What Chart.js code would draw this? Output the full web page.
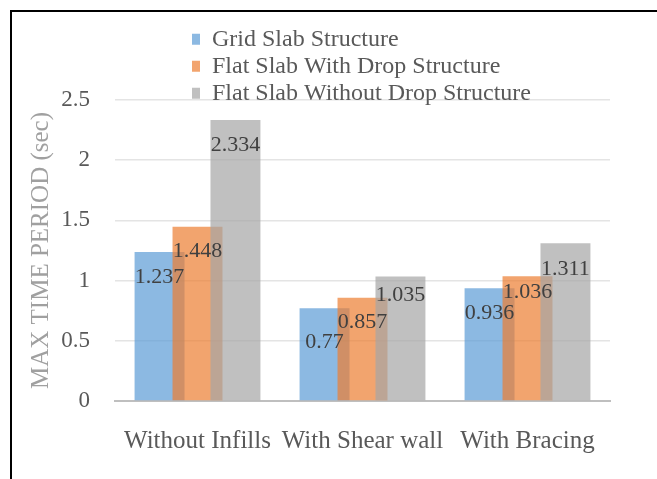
<!DOCTYPE html>
<html>
<head>
<meta charset="utf-8">
<script src="https://cdn.jsdelivr.net/npm/chart.js@4/dist/chart.umd.min.js"></script>
<style>
  html, body { margin: 0; padding: 0; background: #ffffff; overflow: hidden; }
  #wrap { position: relative; width: 657px; height: 479px; }
  #frame {
    position: absolute; left: 10px; top: 10px; width: 700px; height: 520px;
    border-left: 2px solid #000; border-top: 2px solid #000;
    pointer-events: none; box-sizing: border-box;
  }
  canvas { position: absolute; left: 0; top: 0; }
</style>
</head>
<body>
<div id="wrap">
  <canvas id="chart" width="657" height="479"></canvas>
  <div id="frame"></div>
</div>
<script>
// Building configurations compared
const categories = ['Without Infills', 'With Shear wall', 'With Bracing'];

// Series names
const seriesNames = [
  'Grid Slab Structure',
  'Flat Slab With Drop Structure',
  'Flat Slab Without Drop Structure'
];

// Maximum time period (sec) per series
const gridSlab = [1.237, 0.77, 0.936];
const flatSlabWithDrop = [1.448, 0.857, 1.036];
const flatSlabWithoutDrop = [2.334, 1.035, 1.311];

// Value axis tick labels
const yTicks = [0, 0.5, 1, 1.5, 2, 2.5];

// Styling
const SERIF = "'Liberation Serif', 'Times New Roman', serif";
const seriesColors = [
  'rgba(91, 155, 213, 0.7)',
  'rgba(237, 125, 49, 0.7)',
  'rgba(165, 165, 165, 0.7)'
];
// How far below each bar's top its value label sits (px)
const labelDrop = [
  [25, 34, 25],
  [25, 24, 16],
  [25, 19, 26]
];
const LEGEND_LEFT = 189;
const LEGEND_TOP = 24.3;

// Paint series in their natural order so later bars sit on top of earlier ones
const seriesPaintOrder = {
  id: 'seriesPaintOrder',
  beforeDatasetsDraw(chart) {
    const { ctx, chartArea: a } = chart;
    ctx.save();
    ctx.beginPath();
    ctx.rect(a.left, a.top, a.right - a.left, a.bottom - a.top);
    ctx.clip();
    chart.data.datasets.forEach((ds, i) => {
      const meta = chart.getDatasetMeta(i);
      if (!meta.hidden) meta.controller.draw();
    });
    ctx.restore();
    return false;
  }
};

// Value labels inside the bars
const valueLabels = {
  id: 'valueLabels',
  afterDraw(chart) {
    const ctx = chart.ctx;
    ctx.save();
    ctx.font = '22px ' + SERIF;
    ctx.fillStyle = '#404040';
    ctx.textAlign = 'center';
    ctx.textBaseline = 'middle';
    chart.data.datasets.forEach((ds, i) => {
      chart.getDatasetMeta(i).data.forEach((bar, j) => {
        ctx.fillText(String(ds.data[j]), bar.x, bar.y + labelDrop[i][j]);
      });
    });
    ctx.restore();
  }
};

// Legend block sits above the plot, left-aligned
const legendPlacement = {
  id: 'legendPlacement',
  afterLayout(chart) {
    const lg = chart.legend;
    if (!lg) return;
    const dx = LEGEND_LEFT - lg.left;
    const dy = LEGEND_TOP - lg.top;
    lg.left += dx; lg.right += dx;
    lg.top += dy; lg.bottom += dy;
  }
};

const seriesData = [gridSlab, flatSlabWithDrop, flatSlabWithoutDrop];

new Chart(document.getElementById('chart'), {
  type: 'bar',
  data: {
    labels: categories,
    datasets: seriesNames.map((name, i) => ({
      label: name,
      data: seriesData[i],
      backgroundColor: seriesColors[i],
      borderWidth: 0,
      categoryPercentage: 0.69,
      barPercentage: 1.316
    }))
  },
  options: {
    responsive: false,
    animation: false,
    layout: { padding: { left: 24, right: 47, top: 100, bottom: 0 } },
    plugins: {
      tooltip: { enabled: false },
      legend: {
        position: 'chartArea',
        align: 'start',
        labels: {
          font: { family: SERIF, size: 24 },
          color: '#595959',
          boxWidth: 8,
          boxHeight: 11,
          padding: 3
        }
      }
    },
    scales: {
      x: {
        grid: { display: false, drawTicks: false },
        border: { display: true, color: '#BFBFBF', width: 2 },
        ticks: {
          font: { family: SERIF, size: 25 },
          color: '#595959',
          padding: 25,
          maxRotation: 0
        },
        afterFit(scale) { scale.height = 78; }
      },
      y: {
        min: 0,
        max: 2.5,
        afterBuildTicks(scale) { scale.ticks = yTicks.map(v => ({ value: v })); },
        grid: { color: '#E4E4E4', lineWidth: 1.5, drawTicks: false },
        border: { display: false },
        ticks: {
          font: { family: SERIF, size: 23 },
          color: '#595959',
          padding: 25,
          callback: (v) => String(v)
        },
        title: {
          display: true,
          text: 'MAX TIME PERIOD (sec)',
          font: { family: SERIF, size: 25 },
          color: '#A0A0A0',
          padding: { top: 2, bottom: 0 }
        },
        afterFit(scale) { scale.width = 91; }
      }
    }
  },
  plugins: [seriesPaintOrder, valueLabels, legendPlacement]
});
</script>
</body>
</html>
